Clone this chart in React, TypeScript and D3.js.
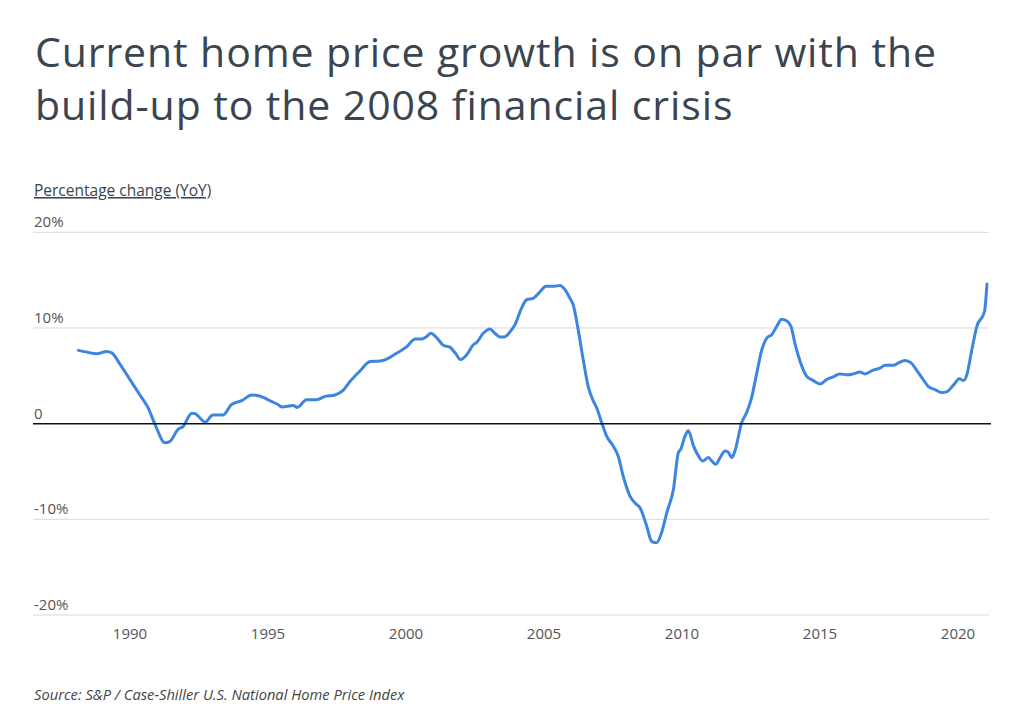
import React from "react";
import * as d3 from "d3";

const title1 = "Current home price growth is on par with the";
const title2 = "build-up to the 2008 financial crisis";
const axisTitle = "Percentage change (YoY)";
const source = "Source:  S&P / Case-Shiller U.S. National Home Price Index";

const yTicks = [20, 10, 0, -10, -20];
const yTickLabels = ["20%", "10%", "0", "-10%", "-20%"];
const xTicks = [1990, 1995, 2000, 2005, 2010, 2015, 2020];

// Decimal year of each reading
const dates = [
  1988.13, 1988.4, 1988.79, 1989.16, 1989.34, 1989.64, 1990.0, 1990.36, 1990.65, 1990.91,
  1991.27, 1991.45, 1991.74, 1991.92, 1992.24, 1992.36, 1992.6, 1992.72, 1993.0, 1993.37,
  1993.68, 1994.05, 1994.41, 1994.83, 1995.0, 1995.36, 1995.5, 1995.92, 1996.06, 1996.4,
  1996.76, 1997.07, 1997.43, 1997.73, 1997.97, 1998.33, 1998.7, 1999.06, 1999.3, 1999.66,
  2000.03, 2000.33, 2000.57, 2000.75, 2000.9, 2001.09, 2001.35, 2001.59, 2001.78, 2001.98,
  2002.2, 2002.44, 2002.56, 2002.8, 2003.04, 2003.22, 2003.41, 2003.55, 2003.77, 2003.95,
  2004.19, 2004.37, 2004.61, 2004.86, 2005.07, 2005.34, 2005.58, 2005.76, 2005.94, 2006.06,
  2006.24, 2006.42, 2006.6, 2006.79, 2006.91, 2007.09, 2007.27, 2007.51, 2007.69, 2007.87,
  2008.12, 2008.3, 2008.48, 2008.72, 2008.9, 2009.08, 2009.26, 2009.45, 2009.69, 2009.87,
  2009.95, 2010.11, 2010.23, 2010.42, 2010.6, 2010.75, 2010.96, 2011.08, 2011.23, 2011.38,
  2011.56, 2011.68, 2011.8, 2011.92, 2012.16, 2012.34, 2012.52, 2012.71, 2012.89, 2013.07,
  2013.25, 2013.43, 2013.61, 2013.79, 2013.95, 2014.09, 2014.28, 2014.52, 2014.76, 2015.0,
  2015.24, 2015.48, 2015.72, 2016.02, 2016.2, 2016.45, 2016.63, 2016.93, 2017.17, 2017.36,
  2017.66, 2017.84, 2018.08, 2018.3, 2018.5, 2018.74, 2018.92, 2019.17, 2019.41, 2019.6,
  2019.84, 2020.05, 2020.2, 2020.32, 2020.5, 2020.68, 2020.96, 2021.05,
];

// YoY percentage change
const values = [
  7.66, 7.5, 7.3, 7.55, 7.4, 6.2, 4.6, 3.0, 1.7, -0.1,
  -2.0, -1.85, -0.6, -0.3, 1.1, 1.05, 0.4, 0.15, 0.9, 0.9,
  2.0, 2.4, 3.0, 2.75, 2.5, 2.0, 1.75, 1.9, 1.7, 2.5,
  2.5, 2.85, 3.0, 3.5, 4.4, 5.5, 6.5, 6.55, 6.75, 7.35,
  8.05, 8.85, 8.85, 9.1, 9.45, 9.05, 8.2, 8.0, 7.4, 6.7,
  7.2, 8.25, 8.5, 9.45, 9.9, 9.45, 9.05, 9.05, 9.6, 10.35,
  12.1, 12.95, 13.1, 13.8, 14.35, 14.35, 14.45, 14.0, 13.1, 12.4,
  9.8, 6.7, 3.9, 2.35, 1.65, 0.1, -1.3, -2.35, -3.4, -5.5,
  -7.6, -8.3, -8.8, -10.7, -12.3, -12.45, -11.4, -9.3, -6.85, -3.0,
  -2.7, -1.3, -0.75, -2.35, -3.4, -3.9, -3.55, -3.9, -4.25, -3.55,
  -2.85, -3.0, -3.55, -2.85, 0.1, 1.15, 2.7, 5.3, 7.7, 8.95,
  9.3, 10.15, 10.9, 10.75, 10.15, 8.4, 6.5, 4.95, 4.5, 4.15,
  4.6, 4.9, 5.2, 5.1, 5.2, 5.4, 5.2, 5.6, 5.8, 6.1,
  6.1, 6.35, 6.6, 6.35, 5.6, 4.6, 3.9, 3.55, 3.25, 3.35,
  4.05, 4.7, 4.5, 5.1, 7.7, 10.15, 11.7, 14.6,
];

const W = 1024;
const H = 715;
const FONT = "'Open Sans', 'Noto Sans', sans-serif";
const TEXT = "#3a4550";

export default function App() {
  const x = d3.scaleLinear().domain([1990, 2020]).range([130, 958]);
  const y = d3.scaleLinear().domain([-20, 20]).range([615, 232.3]);
  const left = 33;
  const right = 989;

  const pts = dates.map((d, i) => [d, values[i]] as [number, number]);
  const line = d3
    .line<[number, number]>()
    .x((d) => x(d[0]))
    .y((d) => y(d[1]))
    .curve(d3.curveMonotoneX);

  return (
    <svg width={W} height={H} style={{ display: "block", position: "absolute", left: 0, top: 0 }}>
      <rect width={W} height={H} fill="#fff" />
      <text x={35} y={67} fontFamily={FONT} fontSize={41} letterSpacing={0.9} fill={TEXT}>{title1}</text>
      <text x={35} y={120} fontFamily={FONT} fontSize={41} letterSpacing={0.9} fill={TEXT}>{title2}</text>

      <text x={34} y={196} fontFamily={FONT} fontSize={15.5} fill={TEXT} textDecoration="underline">{axisTitle}</text>

      {yTicks.map((t, i) => (
        <g key={t}>
          {t !== 0 && (
            <line x1={left} x2={right} y1={y(t)} y2={y(t)} stroke="#d9d9d9" strokeWidth={1} />
          )}
          <text x={34} y={y(t) - 5} fontFamily={FONT} fontSize={15} fill="#555">{yTickLabels[i]}</text>
        </g>
      ))}

      {xTicks.map((t) => (
        <text key={t} x={x(t)} y={639} textAnchor="middle" fontFamily={FONT} fontSize={15} fill="#555">{t}</text>
      ))}

      <path d={line(pts) || ""} fill="none" stroke="#3d85e0" strokeWidth={3} strokeLinejoin="round" strokeLinecap="round" />

      <line x1={left} x2={991} y1={y(0)} y2={y(0)} stroke="#111" strokeWidth={1.5} />

      <text x={34} y={700} fontFamily={FONT} fontSize={14.7} fontStyle="italic" fill="#444">{source}</text>
    </svg>
  );
}
